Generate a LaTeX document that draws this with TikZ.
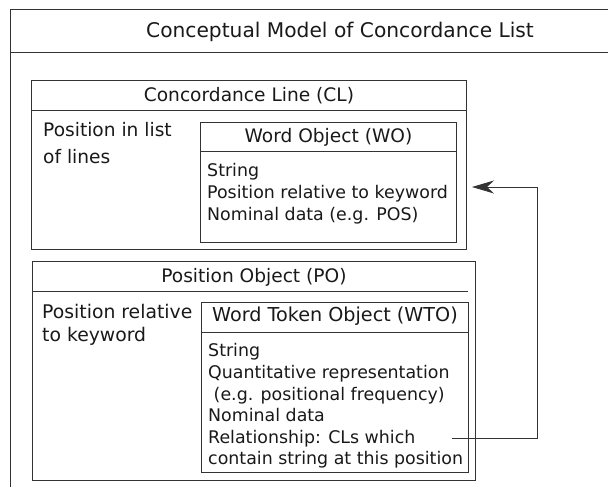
\documentclass[tikz,border=0pt]{standalone}
\usepackage{fontspec}
\setmainfont{DejaVu Sans}
\usetikzlibrary{calc,arrows.meta}

\tikzset{
    line/.style={draw=black!80, line width=0.9pt},
    box/.style={line, inner sep=0pt, anchor=north west},
    head/.style={font=\fontsize{18.6}{22}\selectfont, text=black!90, inner sep=0pt},
    side/.style={font=\fontsize{18.6}{26.5}\selectfont, text=black!90, align=left, inner sep=0pt, anchor=north west},
    body/.style={font=\fontsize{17.4}{21.6}\selectfont, text=black!90, align=left, inner sep=0pt, anchor=north west},
    link/.style={line, -{Stealth[length=22pt, width=13pt, inset=7pt]}},
}

\begin{document}
\begin{tikzpicture}[x=1pt, y=-1pt]
        \useasboundingbox (0,0) rectangle (608,487);

        % 外框
        \coordinate (outer) at (10,9);
        \draw[line] (10,500) -- (outer) -- (620,9);
        \draw[line] ([yshift=-43pt]outer) -- ++(610,0);
        \node[head, font=\fontsize{20.2}{24}\selectfont] (title) at (340,32) {Conceptual Model of Concordance List};

        % CL
        \node[box, minimum width=435pt, minimum height=169pt] (cl) at (31,80) {};
        \draw[line] ([yshift=-30pt]cl.north west) -- ([yshift=-30pt]cl.north east);
        \node[head] (clTitle) at ([yshift=-16pt]cl.north) {Concordance Line (CL)};
        \node[side] (clPos) at (43,122.6) {Position in list\\of lines};

        % WO
        \node[box, minimum width=256pt, minimum height=120pt] (wo) at (200,122) {};
        \draw[line] ([yshift=-29pt]wo.north west) -- ([yshift=-29pt]wo.north east);
        \node[head] (woTitle) at ([yshift=-15pt]wo.north) {Word Object (WO)};
        \node[body] (woBody) at (207,163.5) {String\\Position relative to keyword\\Nominal data (e.g. POS)};

        % PO
        \node[box, minimum width=443pt, minimum height=219pt] (po) at (32,261) {};
        \draw[line] ([yshift=-30pt]po.north west) -- ([yshift=-30pt, xshift=-8pt]po.north east);
        \node[head] (poTitle) at ([yshift=-16pt]po.north) {Position Object (PO)};
        \node[side, font=\fontsize{18.8}{23}\selectfont] (poPos) at (42,304) {Position relative\\to keyword};

        % WTO
        \node[box, minimum width=267pt, minimum height=170pt] (wto) at (201,302) {};
        \draw[line] ([yshift=-30pt]wto.north west) -- ([yshift=-30pt]wto.north east);
        \node[head, font=\fontsize{19.2}{22}\selectfont] (wtoTitle) at ([yshift=-14pt]wto.north) {Word Token Object (WTO)};
        \node[body] (wtoBody) at (208,343.5) {String\\Quantitative representation\\\ (e.g. positional frequency)\\Nominal data\\Relationship: CLs which\\contain string at this position};

        % 箭头
        \coordinate (relEnd) at (452,438);
        \coordinate (woTip) at (472,187);
        \draw[link] (relEnd) -| ([xshift=65pt]woTip) -- (woTip);

    \end{tikzpicture}
\end{document}
